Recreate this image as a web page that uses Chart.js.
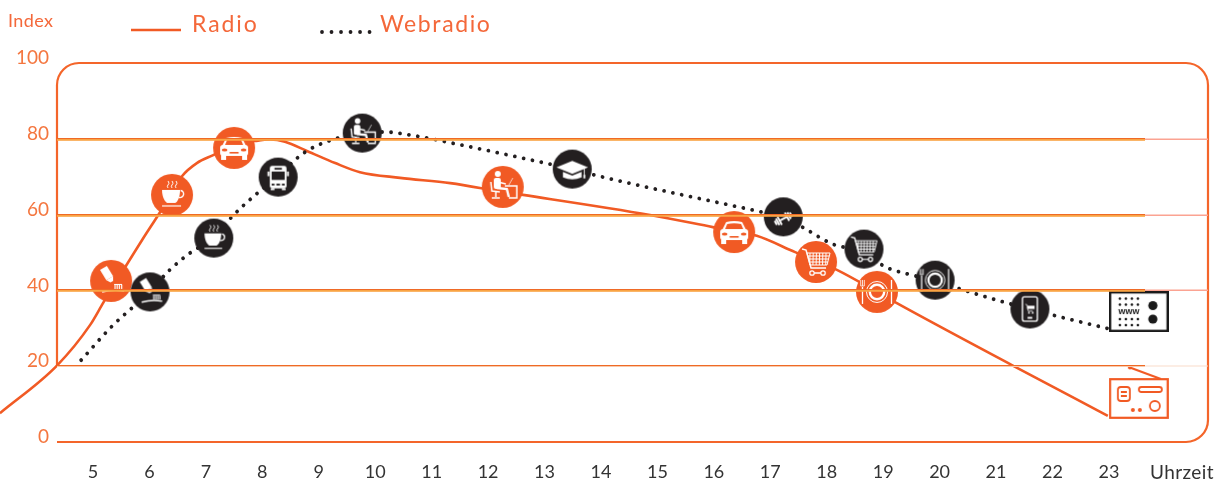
<!DOCTYPE html>
<html>
<head>
<meta charset="utf-8">
<script src="https://cdn.jsdelivr.net/npm/chart.js@4"></script>
<style>
  html, body { margin: 0; padding: 0; background: #fff; overflow: hidden; }
  #wrap { position: relative; width: 1217px; height: 479px; font-family: Lato, sans-serif; }
  #myCanvas { position: absolute; left: 0; top: 0; }
  .txt { position: absolute; white-space: nowrap; line-height: 1; }
  .orange { color: #f4683a; }
  svg { position: absolute; }
</style>
</head>
<body>
<div id="wrap">
  <canvas id="myCanvas" width="1217" height="479"></canvas>
  <span class="txt orange" style="left:8px;top:11px;font-size:18px;letter-spacing:.4px">Index</span>
  <svg style="left:131px;top:26px" width="52" height="8"><line x1="0" y1="4" x2="50" y2="4" stroke="#f15a24" stroke-width="2.6"/></svg>
  <span class="txt orange" style="left:192px;top:12px;font-size:23px;letter-spacing:1.9px">Radio</span>
  <svg style="left:318px;top:27px" width="56" height="10"><line x1="4" y1="5" x2="52" y2="5" stroke="#231f20" stroke-width="3.8" stroke-linecap="round" stroke-dasharray="0.01 9.5"/></svg>
  <span class="txt orange" style="left:380px;top:12px;font-size:23px;letter-spacing:1.6px">Webradio</span>
  <span class="txt" style="left:1150px;top:462px;font-size:19px;color:#333;letter-spacing:.4px">Uhrzeit</span>
</div>
<script>
const hourTicks = [5, 6, 7, 8, 9, 10, 11, 12, 13, 14, 15, 16, 17, 18, 19, 20, 21, 22, 23];
const indexTicks = [0, 20, 40, 60, 80, 100];
const gridValues = [20, 40, 60, 80];

const radioHours = [3.35, 4.37, 4.95, 5.18, 5.32, 5.87, 6.19, 6.58, 6.84, 7.13, 7.5, 7.87, 8.14, 8.4, 8.79, 9.29, 9.73, 10.44, 11.33, 12.26, 12.62, 14.87, 15.98, 16.36, 16.76, 17.44, 17.81, 18.18, 18.89, 19.21, 21.28, 22.98];
const radioValues = [7.6, 20.3, 30.9, 36.7, 40.1, 53.3, 60.7, 70.2, 73.6, 75.7, 78.4, 79.4, 79.8, 79.2, 76.8, 73.6, 71.2, 69.7, 68.3, 66, 65.2, 59.9, 56.7, 55.6, 54.4, 50.1, 47.8, 45.4, 39.6, 36.9, 20.3, 6.9];

const webHours = [4.79, 5.32, 6.0, 6.36, 6.74, 7.14, 7.46, 7.94, 8.28, 8.54, 8.79, 9.23, 9.77, 10.17, 10.62, 11.45, 13.01, 13.49, 13.95, 16.78, 17.23, 17.53, 18.27, 18.66, 18.98, 19.44, 19.92, 20.36, 21.14, 21.6, 22.08, 23.02];
const webValues = [21.6, 30.3, 39.6, 45.4, 50.1, 53.8, 59.4, 66, 69.9, 73.9, 76.8, 79.7, 81.5, 81.8, 81, 78.6, 73.6, 72, 70.2, 60.9, 59.4, 57, 51.5, 50.9, 46.7, 44.3, 42.7, 40.4, 36.9, 35.1, 33.2, 29.8];

const radioStopHours = [5.32, 6.4, 7.5, 12.26, 16.36, 17.81, 18.89];
const radioStopValues = [42.5, 65.2, 77.6, 67.3, 55.4, 47.5, 39.6];
const radioStopIcons = ["tube", "cup", "car", "desk", "car", "cart", "plate"];

const webStopHours = [6.01, 7.14, 8.28, 9.77, 13.49, 17.23, 18.66, 19.92, 21.6];
const webStopValues = [39.6, 53.8, 69.9, 81.5, 72, 59.4, 50.9, 42.7, 35.1];
const webStopIcons = ["tube", "cup", "bus", "desk", "cap", "dumbbell", "cart", "plate", "phone"];

const deviceHours = [23.53, 23.53];
const deviceValues = [34.4, 13.2];

const orange = "#f15a24";
const black = "#231f20";

function pts(xs, ys) {
  return xs.map((x, i) => ({ x: x, y: ys[i] }));
}

// little white glyphs, origin in the middle of the circle
const glyphs = {
  cup(c, fg, bg) {
    c.lineWidth = 1;
    [-4, 0, 4].forEach(function (dx) {
      c.beginPath();
      c.moveTo(dx, -14);
      c.quadraticCurveTo(dx + 2, -11.5, dx, -10);
      c.quadraticCurveTo(dx - 1.5, -9, dx, -7);
      c.stroke();
    });
    c.beginPath();
    c.moveTo(-10, -5);
    c.lineTo(8, -5);
    c.bezierCurveTo(8, 1, 6, 7, 3, 8);
    c.lineTo(-5, 8);
    c.bezierCurveTo(-8, 6, -10, 1, -10, -5);
    c.fill();
    c.lineWidth = 1.4;
    c.beginPath();
    c.arc(8, -1, 3.6, -1.4, 1.9);
    c.stroke();
    c.lineWidth = 1.2;
    c.beginPath();
    c.moveTo(-10, 11);
    c.lineTo(9, 11);
    c.stroke();
  },
  car(c, fg, bg) {
    c.beginPath();
    c.roundRect(-14, -3, 28, 11, 3);
    c.fill();
    c.beginPath();
    c.moveTo(-12, -2);
    c.lineTo(-8, -10);
    c.quadraticCurveTo(0, -12, 8, -10);
    c.lineTo(12, -2);
    c.fill();
    c.fillRect(-13, 7, 5, 5);
    c.fillRect(8, 7, 5, 5);
    c.fillStyle = bg;
    c.beginPath();
    c.moveTo(-9, -3);
    c.lineTo(-7, -8);
    c.quadraticCurveTo(0, -9.5, 7, -8);
    c.lineTo(9, -3);
    c.fill();
    c.beginPath();
    c.ellipse(-9.5, 2, 2.8, 1.5, 0, 0, 7);
    c.ellipse(9.5, 2, 2.8, 1.5, 0, 0, 7);
    c.fill();
    c.fillRect(-4.5, 4, 9, 1.6);
  },
  tube(c, fg, bg) {
    c.save();
    c.translate(-4, -7);
    c.rotate(-0.55);
    c.fillRect(-4, -7, 8, 12);
    c.beginPath();
    c.moveTo(-4, 5);
    c.lineTo(4, 5);
    c.lineTo(1.5, 9);
    c.lineTo(-1.5, 9);
    c.fill();
    c.restore();
    c.fillRect(3, 3, 8, 1);
    c.lineWidth = 1.2;
    for (let x = 4; x <= 11; x += 2.2) {
      c.beginPath();
      c.moveTo(x, 4);
      c.lineTo(x, 8);
      c.stroke();
    }
    c.lineWidth = 1.5;
    c.beginPath();
    c.moveTo(-9, 11);
    c.quadraticCurveTo(2, 8, 13, 10);
    c.stroke();
  },
  desk(c, fg, bg) {
    c.beginPath();
    c.arc(-5, -13, 3, 0, 7);
    c.fill();
    c.beginPath();
    c.roundRect(-9, -9, 7, 11, 2);
    c.fill();
    c.lineWidth = 2.4;
    c.beginPath();
    c.moveTo(-6, 1);
    c.lineTo(4, 2);
    c.lineTo(6, 10);
    c.stroke();
    c.lineWidth = 1.6;
    c.beginPath();
    c.moveTo(-5, -5);
    c.lineTo(3, -3);
    c.stroke();
    c.lineWidth = 1.5;
    c.beginPath();
    c.moveTo(-12, -5);
    c.lineTo(-11, 4);
    c.lineTo(-3, 5);
    c.moveTo(-7, 5);
    c.lineTo(-7, 10);
    c.moveTo(-11, 11);
    c.lineTo(-3, 11);
    c.moveTo(2, -1);
    c.lineTo(14, -1);
    c.lineTo(14, 11);
    c.lineTo(6, 11);
    c.stroke();
    c.lineWidth = 0.7;
    c.beginPath();
    c.moveTo(10, -9);
    c.lineTo(6, -2);
    c.stroke();
  },
  bus(c, fg, bg) {
    c.beginPath();
    c.roundRect(-9, -12, 18, 24, 2.5);
    c.fill();
    c.fillRect(-8, 12, 4, 2);
    c.fillRect(4, 12, 4, 2);
    c.fillRect(-11.5, -6, 2, 5);
    c.fillRect(9.5, -6, 2, 5);
    c.fillStyle = bg;
    c.fillRect(-7, -6, 14, 9);
    c.fillRect(-4, -10, 8, 2);
    c.fillRect(-7, 7, 3, 2);
    c.fillRect(4, 7, 3, 2);
    c.fillRect(-2, 7, 4, 2);
  },
  cap(c, fg, bg) {
    c.beginPath();
    c.moveTo(0, -9);
    c.lineTo(17, -2);
    c.lineTo(0, 5);
    c.lineTo(-17, -2);
    c.fill();
    c.beginPath();
    c.moveTo(-10, 3);
    c.lineTo(0, 7);
    c.lineTo(10, 3);
    c.lineTo(10, 9);
    c.quadraticCurveTo(0, 13, -10, 9);
    c.fill();
    c.lineWidth = 1;
    c.beginPath();
    c.moveTo(13, -1);
    c.lineTo(13, 6);
    c.stroke();
    c.fillRect(12, 6, 2, 4);
  },
  dumbbell(c, fg, bg) {
    c.save();
    c.translate(0, 2);
    c.rotate(-0.5);
    c.fillRect(-4, -1, 8, 2);
    [[-5.5, 10], [-8, 8], [-10.3, 5], [3.5, 10], [6, 8], [8.3, 5]].forEach(function (p) {
      c.fillRect(p[0], -p[1] / 2, 2, p[1]);
    });
    c.restore();
  },
  cart(c, fg, bg) {
    c.lineWidth = 1.5;
    c.beginPath();
    c.moveTo(-14, -13);
    c.lineTo(-10, -12);
    c.lineTo(-5, 6);
    c.lineTo(10, 6);
    c.stroke();
    c.lineWidth = 1;
    c.beginPath();
    c.moveTo(-9, -9);
    c.lineTo(14, -9);
    c.lineTo(11, 3);
    c.lineTo(-6, 3);
    c.closePath();
    for (let x = -6; x <= 12; x += 3.2) {
      c.moveTo(x, -9);
      c.lineTo(x - 0.3, 3);
    }
    for (let y = -6; y <= 0; y += 3) {
      c.moveTo(-9 + (y + 9) / 4, y);
      c.lineTo(14 - (y + 9) / 4, y);
    }
    c.stroke();
    c.lineWidth = 1.3;
    c.beginPath();
    c.arc(-4, 11, 2.2, 0, 7);
    c.moveTo(9.2, 11);
    c.arc(7, 11, 2.2, 0, 7);
    c.moveTo(-2, 11);
    c.lineTo(5, 11);
    c.stroke();
  },
  plate(c, fg, bg) {
    c.lineWidth = 1;
    c.beginPath();
    c.arc(0, 0, 10.5, 0, 7);
    c.stroke();
    c.lineWidth = 2.4;
    c.beginPath();
    c.arc(0, 0, 7.2, 0, 7);
    c.stroke();
    c.lineWidth = 1.3;
    c.beginPath();
    c.moveTo(-14.5, -5);
    c.lineTo(-14.5, 12);
    c.moveTo(14.5, -12);
    c.lineTo(14.5, 12);
    c.stroke();
    c.lineWidth = 0.8;
    c.beginPath();
    c.moveTo(-16.3, -12);
    c.lineTo(-16.3, -6);
    c.lineTo(-12.7, -6);
    c.lineTo(-12.7, -12);
    c.moveTo(-14.5, -12);
    c.lineTo(-14.5, -6);
    c.stroke();
  },
  phone(c, fg, bg) {
    c.lineWidth = 1.5;
    c.beginPath();
    c.roundRect(-8, -13, 16, 26, 2);
    c.stroke();
    c.fillRect(-2.5, 8.5, 5, 2);
    c.lineWidth = 0.8;
    c.beginPath();
    c.moveTo(-5, -5);
    c.lineTo(-3, -4.5);
    c.lineTo(-2, 2);
    c.lineTo(3, 2);
    c.stroke();
    c.fillRect(-3, -3.5, 8, 3.5);
    c.beginPath();
    c.arc(-1, 4, 1, 0, 7);
    c.arc(3, 4, 1, 0, 7);
    c.fill();
  },
};

function stopIcon(name, bg, r, zoom) {
  const size = Math.ceil(r * 2) + 2;
  const cv = document.createElement("canvas");
  cv.width = size;
  cv.height = size;
  const c = cv.getContext("2d");
  c.translate(size / 2, size / 2);
  c.fillStyle = bg;
  c.beginPath();
  c.arc(0, 0, r, 0, 7);
  c.fill();
  c.scale(zoom, zoom);
  c.fillStyle = "#fff";
  c.strokeStyle = "#fff";
  glyphs[name](c, "#fff", bg);
  return cv;
}

function wwwBox() {
  const cv = document.createElement("canvas");
  cv.width = 60;
  cv.height = 41;
  const c = cv.getContext("2d");
  c.fillStyle = "#fff";
  c.fillRect(1, 1, 58, 39);
  c.strokeStyle = "#1a1a1a";
  c.lineWidth = 2.4;
  c.strokeRect(1.2, 1.2, 57.6, 38.6);
  c.fillStyle = "#1a1a1a";
  [7.5, 13.5, 28, 34].forEach(function (y) {
    [11, 17, 23, 29].forEach(function (x) {
      c.beginPath();
      c.arc(x, y, 1.3, 0, 7);
      c.fill();
    });
  });
  c.font = "bold 9px 'Liberation Sans'";
  c.textAlign = "center";
  c.textBaseline = "middle";
  c.fillText("www", 20, 21);
  [14.5, 28].forEach(function (y) {
    c.beginPath();
    c.arc(44, y, 4.6, 0, 7);
    c.fill();
  });
  return cv;
}

function radioBox() {
  const cv = document.createElement("canvas");
  cv.width = 60;
  cv.height = 54;
  const c = cv.getContext("2d");
  c.strokeStyle = orange;
  c.fillStyle = orange;
  c.lineWidth = 2.2;
  c.strokeRect(1.2, 14.2, 57.6, 38.6);
  c.beginPath();
  c.moveTo(52, 14);
  c.lineTo(21, 2.5);
  c.stroke();
  c.beginPath();
  c.arc(21, 2.5, 2, 0, 7);
  c.fill();
  c.lineWidth = 1.8;
  c.beginPath();
  c.roundRect(9, 22, 12, 14, 3);
  c.stroke();
  c.beginPath();
  c.moveTo(12, 27);
  c.lineTo(18, 27);
  c.moveTo(12, 31);
  c.lineTo(18, 31);
  c.stroke();
  c.beginPath();
  c.roundRect(30, 22, 23, 5, 2.5);
  c.stroke();
  c.beginPath();
  c.arc(46, 41, 5, 0, 7);
  c.stroke();
  c.beginPath();
  c.arc(24, 45, 2, 0, 7);
  c.arc(31, 45, 2, 0, 7);
  c.fill();
  return cv;
}

// rounded frame, left side stops at 20 and the bottom left corner stays open
const framePlugin = {
  id: "frame",
  beforeDatasetsDraw(chart) {
    const a = chart.chartArea;
    const y20 = chart.scales.y.getPixelForValue(20);
    const c = chart.ctx;
    c.save();
    c.strokeStyle = "#f4652a";
    c.lineWidth = 2.2;
    c.beginPath();
    c.moveTo(a.left, y20);
    c.arcTo(a.left, a.top, a.right, a.top, 22);
    c.arcTo(a.right, a.top, a.right, a.bottom, 22);
    c.arcTo(a.right, a.bottom, a.left, a.bottom, 22);
    c.lineTo(a.left, a.bottom);
    c.stroke();
    c.restore();
  },
};

// two tone rules on top of the circles, fading out after 1145
const rulePlugin = {
  id: "rules",
  afterDatasetsDraw(chart) {
    const a = chart.chartArea;
    const c = chart.ctx;
    gridValues.forEach(function (v) {
      const y = Math.round(chart.scales.y.getPixelForValue(v));
      const low = v === 20;
      c.fillStyle = low ? "#f9dcc9" : "#fba392";
      c.fillRect(1145, y - 0.5, a.right - 1145, low ? 1 : 1.5);
      c.fillStyle = low ? "#f9c9ab" : "#f9a444";
      c.fillRect(a.left, y, 1145 - a.left, low ? 1 : 1.8);
      c.fillStyle = "#ef6a26";
      c.fillRect(a.left, y - 1, 1145 - a.left, 1);
    });
  },
};

new Chart(document.getElementById("myCanvas"), {
  type: "line",
  data: {
    datasets: [
      {
        label: "Radio",
        data: pts(radioHours, radioValues),
        borderColor: orange,
        borderWidth: 2.6,
        cubicInterpolationMode: "monotone",
        pointRadius: 0,
        clip: false,
        order: 5,
      },
      {
        label: "Webradio",
        data: pts(webHours, webValues),
        borderColor: black,
        borderWidth: 3.8,
        borderCapStyle: "round",
        borderDash: [0.01, 9],
        cubicInterpolationMode: "monotone",
        pointRadius: 0,
        clip: false,
        order: 4,
      },
      {
        label: "Radio stops",
        data: pts(radioStopHours, radioStopValues),
        showLine: false,
        pointStyle: radioStopIcons.map((n) => stopIcon(n, orange, 21, 1)),
        pointRadius: 21,
        clip: false,
        order: 3,
      },
      {
        label: "Webradio stops",
        data: pts(webStopHours, webStopValues),
        showLine: false,
        pointStyle: webStopIcons.map((n) => stopIcon(n, black, 19.5, 0.93)),
        pointRadius: 20,
        clip: false,
        order: 2,
      },
      {
        label: "Devices",
        data: pts(deviceHours, deviceValues),
        showLine: false,
        pointStyle: [wwwBox(), radioBox()],
        pointRadius: 20,
        clip: false,
        order: 1,
      },
    ],
  },
  options: {
    responsive: false,
    animation: false,
    layout: { autoPadding: false, padding: { top: 63, right: 9, bottom: 0, left: 0 } },
    plugins: {
      legend: { display: false },
      tooltip: { enabled: false },
    },
    scales: {
      x: {
        type: "linear",
        min: 4.362,
        max: 24.755,
        afterBuildTicks(scale) {
          scale.ticks = hourTicks.map((v) => ({ value: v }));
        },
        afterFit(scale) {
          scale.height = 37;
        },
        grid: { display: false, tickLength: 19 },
        border: { display: false },
        ticks: {
          autoSkip: false,
          maxRotation: 0,
          padding: 0,
          color: "#333",
          font: { family: "Lato", size: 18 },
          callback: (v) => String(v),
        },
      },
      y: {
        type: "linear",
        min: 0,
        max: 100,
        afterBuildTicks(scale) {
          scale.ticks = indexTicks.map((v) => ({ value: v }));
        },
        afterFit(scale) {
          scale.width = 57;
        },
        grid: { display: false },
        border: { display: false },
        ticks: {
          padding: 0,
          labelOffset: -5,
          color: "#f4763f",
          font: { family: "Lato", size: 19 },
          callback: (v) => String(v),
        },
      },
    },
  },
  plugins: [framePlugin, rulePlugin],
});
</script>
</body>
</html>
